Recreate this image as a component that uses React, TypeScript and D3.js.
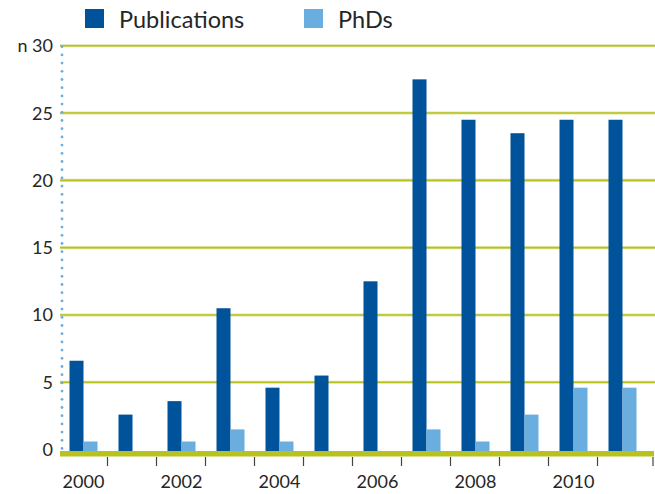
import React from 'react';
import * as d3 from 'd3';

const years = [2000, 2001, 2002, 2003, 2004, 2005, 2006, 2007, 2008, 2009, 2010, 2011];
const publications = [6.6, 2.6, 3.6, 10.5, 4.6, 5.5, 12.5, 27.5, 24.5, 23.5, 24.5, 24.5];
const phds = [0.6, 0, 0.6, 1.5, 0.6, 0, 0, 1.5, 0.6, 2.6, 4.6, 4.6];
const yTicks = [0, 5, 10, 15, 20, 25, 30];
const yearLabels = [2000, 2002, 2004, 2006, 2008, 2010];
const seriesNames = ['Publications', 'PhDs'];

const W = 655;
const H = 494;
const FONT = 'Lato, "Open Sans", sans-serif';
const TEXT = '#262626';
const DARK = '#00529b';
const LIGHT = '#6aaee0';
const GRID = '#b8c21f';

const App = () => {
  // scales
  const x = d3.scaleBand<number>().domain(years).range([59, 647]).padding(0);
  const inner = d3.scaleBand<string>().domain(seriesNames).range([10.5, 38.5]).padding(0);
  const y = d3.scaleLinear().domain([0, 30]).range([449.6, 45.7]);
  const colors = d3.scaleOrdinal<string, string>().domain(seriesNames).range([DARK, LIGHT]);

  const series = [publications, phds];
  const dots = d3.range(y(30) + 1, y(0), 8.2);

  return (
    <svg width={W} height={H} style={{ position: 'absolute', left: 0, top: 0, background: '#fff' }}>
      {/* legend */}
      {seriesNames.map((name, i) => {
        const lx = i === 0 ? 85 : 304;
        return (
          <g key={name}>
            <rect x={lx} y={9} width={19} height={19} fill={colors(name)} />
            <text x={lx + 34} y={27.5} fontSize={23.5} fontFamily={FONT} fill={TEXT}>{name}</text>
          </g>
        );
      })}

      {/* grid lines */}
      {yTicks.filter(t => t > 0).map(t => (
        <g key={t}>
          <line x1={60} x2={W} y1={y(t)} y2={y(t)} stroke="#dfe3a0" strokeWidth={3} />
          <line x1={60} x2={W} y1={y(t)} y2={y(t)} stroke={GRID} strokeWidth={1.6} />
        </g>
      ))}

      {/* dotted left axis */}
      {dots.map((d, i) => (
        <circle key={i} cx={62} cy={d} r={1.4} fill={LIGHT} />
      ))}

      {/* y labels */}
      {yTicks.map(t => (
        <text key={t} x={53} y={y(t) + 6.5} textAnchor="end" fontSize={18} fontFamily={FONT} fill={TEXT}>
          {t === 30 ? 'n 30' : t}
        </text>
      ))}

      {/* bars */}
      {series.map((vals, si) => (
        <g key={seriesNames[si]} fill={colors(seriesNames[si])}>
          {vals.map((v, i) => v > 0 && (
            <rect
              key={years[i]}
              x={(x(years[i]) as number) + (inner(seriesNames[si]) as number)}
              y={y(v)}
              width={inner.bandwidth()}
              height={y(0) + 2 - y(v)}
            />
          ))}
        </g>
      ))}

      {/* baseline */}
      <rect x={60} y={451} width={594} height={5.5} fill={GRID} />

      {/* x ticks */}
      {years.slice(1).map(yr => (
        <line key={yr} x1={(x(yr) as number) - 0.5} x2={(x(yr) as number) - 0.5} y1={457} y2={466} stroke="#444" strokeWidth={1.2} />
      ))}
      <line x1={653} x2={653} y1={457} y2={466} stroke="#444" strokeWidth={1.2} />

      {/* x labels */}
      {yearLabels.map(yr => (
        <text key={yr} x={(x(yr) as number) + x.bandwidth() / 2} y={488} textAnchor="middle" fontSize={18} fontFamily={FONT} fill={TEXT}>
          {yr}
        </text>
      ))}
    </svg>
  );
};

export default App;
